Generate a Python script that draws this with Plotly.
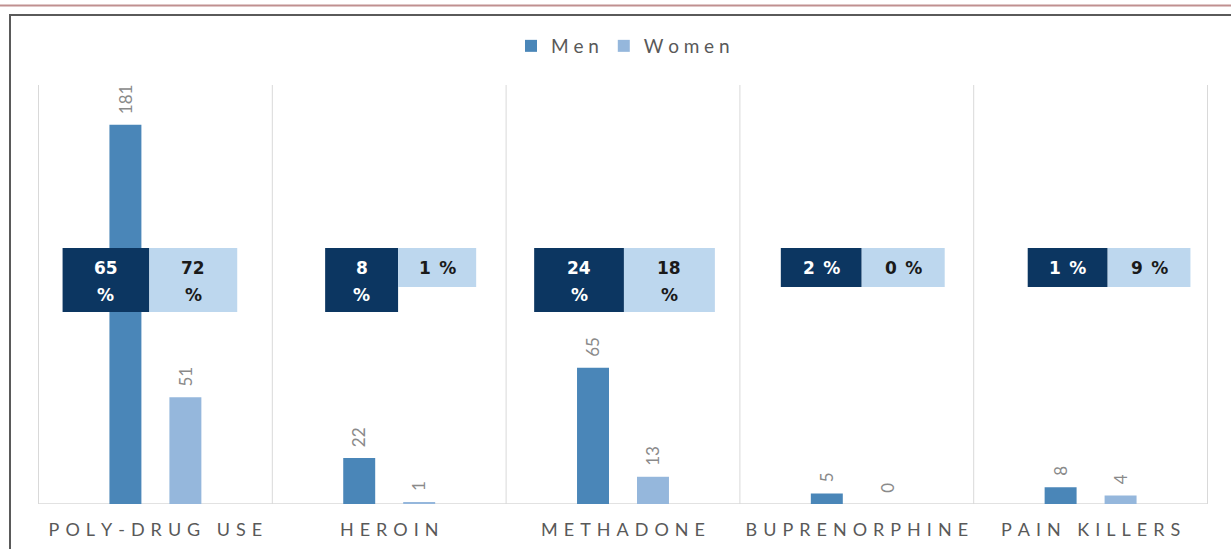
import plotly.graph_objects as go

# ---- data -------------------------------------------------------------
categories = ["POLY-DRUG USE", "HEROIN", "METHADONE", "BUPRENORPHINE", "PAIN KILLERS"]
men_counts = [181, 22, 65, 5, 8]
women_counts = [51, 1, 13, 0, 4]
men_pct = [65, 8, 24, 2, 1]
women_pct = [72, 1, 18, 0, 9]

# ---- styling / layout -------------------------------------------------
W, H = 1231, 549
M_L, M_R, M_T, M_B = 38, 23, 85, 45
PLOT_W = W - M_L - M_R
PLOT_H = H - M_T - M_B

MEN_COLOR = "#4a86b8"
WOMEN_COLOR = "#95b7dc"
BOX_DARK = "#0c3661"
BOX_LIGHT = "#bdd7ee"
GRID = "#d9d9d9"
LABEL_GRAY = "#595959"
VALUE_GRAY = "#8a8a8a"

BARGAP = 0.487
BARGROUPGAP = 0.467

# percentage boxes: (left edge, split, right edge) as category-width fractions
# relative to each category centre, plus whether each half wraps onto two lines
box_edges = [(-0.397, -0.026, 0.350),
             (-0.274, 0.038, 0.372),
             (-0.380, 0.004, 0.393),
             (-0.325, 0.021, 0.376),
             (-0.269, 0.073, 0.427)]
men_wrap = [True, True, True, False, False]
women_wrap = [True, False, True, False, False]


def spaced(s, sp):
    return sp.join(" " if ch == " " else ch for ch in s)


def px_x(px):
    return (px - M_L) / PLOT_W


def px_y(py):
    return (H - M_B - py) / PLOT_H


fig = go.Figure()
fig.add_trace(go.Bar(x=categories, y=men_counts, name=spaced("Men", "\u2005"),
                     marker=dict(color=MEN_COLOR, line_width=0)))
fig.add_trace(go.Bar(x=categories, y=women_counts, name=spaced("Women", "\u2005"),
                     marker=dict(color=WOMEN_COLOR, line_width=0)))

shapes = []
annotations = []

# category dividers and baseline
for i in range(len(categories) + 1):
    shapes.append(dict(type="line", xref="x", yref="paper", x0=i - 0.5, x1=i - 0.5,
                       y0=0, y1=1, line=dict(color=GRID, width=1), layer="below"))
shapes.append(dict(type="line", xref="paper", yref="y", x0=0, x1=1, y0=0, y1=0,
                   line=dict(color=GRID, width=1.5), layer="below"))

# value labels above each bar
half = (1 - BARGAP) / 4
for i, cat in enumerate(categories):
    for off, val in ((-half, men_counts[i]), (half, women_counts[i])):
        annotations.append(dict(x=i + off, y=val, xref="x", yref="y", text=str(val),
                                textangle=-90, showarrow=False, yanchor="bottom",
                                xanchor="center", yshift=9,
                                font=dict(family="Lato", size=17, color=VALUE_GRAY)))

# percentage boxes
BOX_TOP = px_y(248)
BOX_BOT_TALL = px_y(312)
BOX_BOT_SHORT = px_y(287)
LINE1 = px_y(267.5)
LINE2 = px_y(295)
pct_font = dict(family="DejaVu Sans", size=17, weight="bold")
for i in range(len(categories)):
    left, mid, right = box_edges[i]
    for (x0, x1, val, wrap, fill, tcol) in (
            (left, mid, men_pct[i], men_wrap[i], BOX_DARK, "white"),
            (mid, right, women_pct[i], women_wrap[i], BOX_LIGHT, "#1a1a1a")):
        bot = BOX_BOT_TALL if wrap else BOX_BOT_SHORT
        shapes.append(dict(type="rect", xref="x", yref="paper", x0=i + x0, x1=i + x1,
                           y0=bot, y1=BOX_TOP, fillcolor=fill, line_width=0, layer="above"))
        cx = i + (x0 + x1) / 2
        lines = [(f"{val}", LINE1), ("%", LINE2)] if wrap else [(f"{val}\u2002%", LINE1)]
        for txt, ty in lines:
            annotations.append(dict(x=cx, y=ty, xref="x", yref="paper", text=txt,
                                    showarrow=False, xanchor="center", yanchor="middle",
                                    font=dict(color=tcol, **pct_font)))

# outer frame and rule along the top
shapes.append(dict(type="rect", xref="paper", yref="paper", x0=px_x(10), x1=px_x(W + 20),
                   y0=px_y(H + 20), y1=px_y(15), line=dict(color="#5a5a5a", width=2),
                   fillcolor="rgba(0,0,0,0)", layer="below"))
shapes.append(dict(type="line", xref="paper", yref="paper", x0=px_x(0), x1=px_x(W),
                   y0=px_y(5.5), y1=px_y(5.5), line=dict(color="#c09090", width=2)))

fig.update_layout(
    width=W, height=H,
    margin=dict(l=M_L, r=M_R, t=M_T, b=M_B, autoexpand=False),
    paper_bgcolor="white", plot_bgcolor="white",
    barmode="group", bargap=BARGAP, bargroupgap=BARGROUPGAP,
    showlegend=True,
    legend=dict(orientation="h", x=0.5, xanchor="center", y=px_y(46), yanchor="middle",
                font=dict(family="Lato", size=19, color=LABEL_GRAY),
                bgcolor="rgba(0,0,0,0)"),
    xaxis=dict(tickmode="array", tickvals=categories,
               ticktext=[spaced(c, "\u2004") for c in categories],
               tickfont=dict(family="Lato", size=18, color=LABEL_GRAY),
               ticks="outside", ticklen=9, tickcolor="rgba(0,0,0,0)",
               automargin=False,
               showgrid=False, zeroline=False, showline=False),
    yaxis=dict(range=[0, 200], visible=False, showgrid=False, zeroline=False,
               automargin=False),
    shapes=shapes,
    annotations=annotations,
)

fig.write_html("out.html")
